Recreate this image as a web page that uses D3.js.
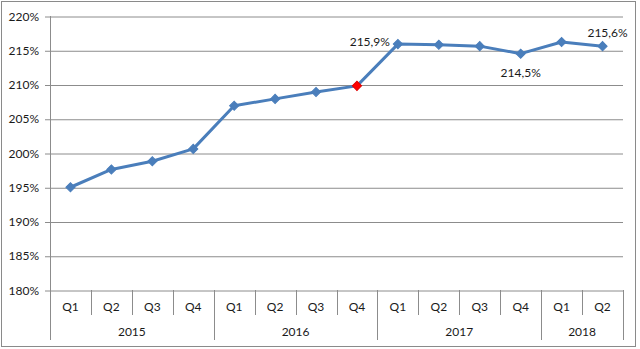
<!DOCTYPE html>
<html>
<head>
<meta charset="utf-8">
<script src="https://cdn.jsdelivr.net/npm/d3@7"></script>
<style>
  html, body { margin: 0; padding: 0; background: #fff; }
  svg text { font-family: Lato, "Liberation Sans", sans-serif; font-size: 12px; fill: #1a1a1a; }
</style>
</head>
<body>
<svg id="chart" width="640" height="349"></svg>
<script>
// Quarterly ratio, 2015 Q1 to 2018 Q2 (percent)
const years = ["2015", "2016", "2017", "2018"];
const quartersPerYear = [4, 4, 4, 2];
const quarters = ["Q1","Q2","Q3","Q4","Q1","Q2","Q3","Q4","Q1","Q2","Q3","Q4","Q1","Q2"];
const values = [195.0, 197.6, 198.8, 200.6, 206.9, 207.9, 208.9, 209.8, 215.9, 215.8, 215.6, 214.5, 216.2, 215.6];
const yTicks = [180, 185, 190, 195, 200, 205, 210, 215, 220];
// Highlighted point and value labels (index, placement)
const highlightIndex = 7;
const valueLabels = [
  { i: 8, pos: "left" },
  { i: 11, pos: "below" },
  { i: 13, pos: "above" }
];

const svg = d3.select("#chart");
const plot = { left: 50, right: 623, top: 16, bottom: 290 };
const qTickBottom = 315, yearTickBottom = 340;
const gridColor = "#8c8c8c";
const lineColor = "#4a7ebb";

// Chart frame
svg.append("rect")
  .attr("x", 1.5).attr("y", 1.5).attr("width", 634).attr("height", 345)
  .attr("fill", "#fff").attr("stroke", "#8a8a8a").attr("stroke-width", 1);

const ids = quarters.map((q, i) => i);
const x = d3.scaleBand().domain(ids).range([plot.left, plot.right]).padding(0);
const y = d3.scaleLinear().domain([180, 220]).range([plot.bottom, plot.top]);

// Horizontal gridlines + y labels
const yAxis = d3.axisLeft(y)
  .tickValues(yTicks)
  .tickSize(plot.right - plot.left)
  .tickFormat(d => d + "%");
const gy = svg.append("g")
  .attr("transform", `translate(${plot.right},0)`)
  .call(yAxis);
gy.select(".domain").remove();
gy.selectAll(".tick line").attr("stroke", gridColor).attr("x1", 0).attr("x2", -(plot.right - plot.left + 5))
  .attr("transform", "translate(0,0.5)");
gy.selectAll(".tick text")
  .attr("x", -(plot.right - plot.left + 11))
  .attr("dy", "0.35em")
  .style("font-family", "Lato, 'Liberation Sans', sans-serif").style("font-size", "12px").attr("fill", "#1a1a1a");

// Vertical axis line
svg.append("line")
  .attr("x1", plot.left + 0.5).attr("x2", plot.left + 0.5)
  .attr("y1", plot.top).attr("y2", yearTickBottom)
  .attr("stroke", gridColor);

// Category axis: quarter separators
const g = svg.append("g");
ids.forEach(i => {
  if (i === 0) return;
  g.append("line")
    .attr("x1", Math.round(x(i)) + 0.5).attr("x2", Math.round(x(i)) + 0.5)
    .attr("y1", plot.bottom).attr("y2", qTickBottom)
    .attr("stroke", gridColor);
});
g.selectAll("text.q").data(quarters).join("text")
  .attr("class", "q")
  .attr("x", (d, i) => x(i) + x.bandwidth() / 2)
  .attr("y", 307)
  .attr("dy", "0.35em")
  .attr("text-anchor", "middle")
  .text(d => d);

// Category axis: year groups
let start = 0;
years.forEach((yr, k) => {
  const end = start + quartersPerYear[k];
  const x0 = x(start);
  const x1 = end < ids.length ? x(end) : plot.right;
  g.append("line")
    .attr("x1", Math.round(x1) + 0.5).attr("x2", Math.round(x1) + 0.5)
    .attr("y1", plot.bottom).attr("y2", yearTickBottom)
    .attr("stroke", gridColor);
  g.append("text")
    .attr("x", (x0 + x1) / 2)
    .attr("y", 332)
    .attr("dy", "0.35em")
    .attr("text-anchor", "middle")
    .text(yr);
  start = end;
});

// Series line
const cx = i => x(i) + x.bandwidth() / 2;
const line = d3.line().x((d, i) => cx(i)).y(d => y(d));
svg.append("path")
  .datum(values)
  .attr("d", line)
  .attr("fill", "none")
  .attr("stroke", lineColor)
  .attr("stroke-width", 3)
  .attr("stroke-linejoin", "round");

// Diamond markers (square rotated by 45 degrees)
const diamond = d3.symbol().type(d3.symbolSquare).size(42);
svg.selectAll("path.marker").data(values).join("path")
  .attr("class", "marker")
  .attr("d", diamond)
  .attr("transform", (d, i) => `translate(${cx(i)},${y(d)}) rotate(45)`)
  .attr("fill", (d, i) => i === highlightIndex ? "#ff0000" : lineColor)
  .attr("stroke", (d, i) => i === highlightIndex ? "#e00000" : lineColor)
  .attr("stroke-width", 1);

// Value labels
const fmt = v => v.toFixed(1).replace(".", ",") + "%";
valueLabels.forEach(l => {
  const px = cx(l.i), py = y(values[l.i]);
  const t = svg.append("text").text(fmt(values[l.i]));
  if (l.pos === "left") {
    t.attr("x", px - 8).attr("y", py - 2).attr("dy", "0.35em").attr("text-anchor", "end");
  } else if (l.pos === "below") {
    t.attr("x", px).attr("y", py + 19).attr("dy", "0.35em").attr("text-anchor", "middle");
  } else {
    t.attr("x", px + 5).attr("y", py - 13).attr("dy", "0.35em").attr("text-anchor", "middle");
  }
});
</script>
</body>
</html>
